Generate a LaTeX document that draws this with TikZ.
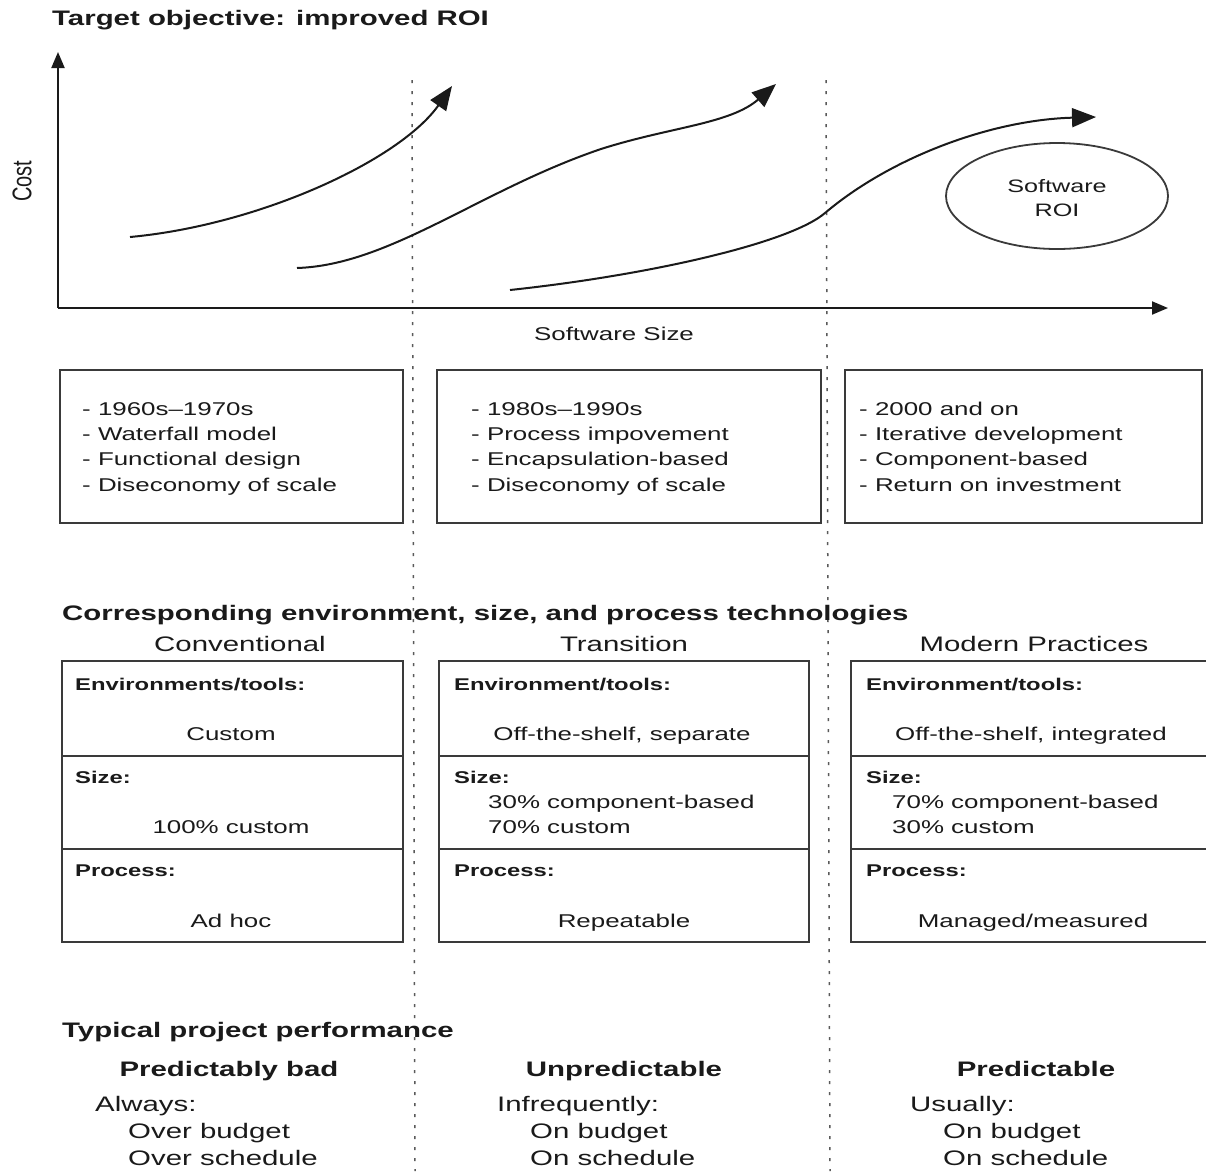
\documentclass[tikz,border=0pt]{standalone}
\usepackage{fontspec}
\setmainfont{Liberation Sans}[FakeStretch=1.4]
\newfontfamily\plainfont{Liberation Sans}
\usetikzlibrary{arrows.meta}

\definecolor{ink}{HTML}{1A1A1A}
\definecolor{frame}{HTML}{3A3A3A}
\definecolor{dots}{HTML}{5A5A5A}

\begin{document}
\begin{tikzpicture}[x=1pt,y=-1pt,
  every node/.style={inner sep=0pt, text=ink},
  heading/.style={font=\fontsize{21}{25}\selectfont\bfseries, anchor=base west},
  body/.style={font=\fontsize{18.5}{25}\selectfont, anchor=base west},
  bodyc/.style={font=\fontsize{18.5}{25}\selectfont, anchor=base},
  rowlabel/.style={font=\fontsize{17}{20}\selectfont\bfseries, anchor=base west},
  colhead/.style={font=\fontsize{21}{25}\selectfont, anchor=base},
  perf/.style={font=\fontsize{21}{27}\selectfont, anchor=base west},
  perfhead/.style={font=\fontsize{21}{27}\selectfont\bfseries, anchor=base},
  frameline/.style={draw=frame, line width=1.8pt},
  axis/.style={draw=ink, line width=2pt, -{Triangle[length=16pt,width=13pt]}},
  growth/.style={draw=ink, line width=2pt, -{Triangle[length=24pt,width=19pt]}},
  divider/.style={draw=dots, line width=1.5pt, dash pattern=on 3pt off 8pt},
]
\useasboundingbox (0,0) rectangle (1206,1171);
\fill[white] (0,0) rectangle (1206,1171);

% ---------- era dividers ----------
\coordinate (d1top) at (412,80);
\coordinate (d1bot) at (415,1171);
\coordinate (d2top) at (826,80);
\coordinate (d2bot) at (830,1171);
\draw[divider] (d1top) -- (d1bot);
\draw[divider] (d2top) -- (d2bot);

% ---------- cost / size chart ----------
\node[heading] (title) at (52,25) {Target objective: improved ROI};

\coordinate (origin) at (58,308);
\coordinate (ytip) at (58,52);
\coordinate (xtip) at (1168,308);
\draw[axis] (origin) -- (ytip);
\draw[axis] (origin) -- (xtip);

\node[rotate=90, font=\plainfont\fontsize{20}{24}\selectfont] (costlabel) at (22,181) {\scalebox{1}[1.35]{Cost}};
\node[bodyc] (sizelabel) at (614,340) {Software Size};

% conventional era
\coordinate (c1s) at (130,237);
\coordinate (c1e) at (452,86);
\draw[growth] (c1s) .. controls (260,225) and (400,160) .. (c1e);

% transition era
\coordinate (c2s) at (297,268);
\coordinate (c2m) at (601,149);
\coordinate (c2e) at (776,84);
\draw[growth] (c2s) .. controls (390,265) and (480,190) .. (c2m)
                    .. controls (670,127) and (730,124) .. (c2e);

% modern era
\coordinate (c3s) at (510,290);
\coordinate (c3m) at (825,213);
\coordinate (c3e) at (1096,117);
\draw[growth] (c3s) .. controls (650,275) and (790,243) .. (c3m)
                    .. controls (890,158) and (990,120) .. (c3e);

\draw[frameline] (1057,196) ellipse [x radius=111, y radius=53];
\node[bodyc, font=\fontsize{18}{24}\selectfont] (roi) at (1057,192) {Software};
\node[bodyc, font=\fontsize{18}{24}\selectfont] (roi2) at (1057,216) {ROI};

% ---------- era summary boxes ----------
\draw[frameline] (60,370) rectangle (403,523);
\draw[frameline] (437,370) rectangle (821,523);
\draw[frameline] (845,370) rectangle (1202,523);

\node[body] (e1a) at (82,415) {- 1960s--1970s};
\node[body] (e1b) at (82,440) {- Waterfall model};
\node[body] (e1c) at (82,465) {- Functional design};
\node[body] (e1d) at (82,491) {- Diseconomy of scale};

\node[body] (e2a) at (471,415) {- 1980s--1990s};
\node[body] (e2b) at (471,440) {- Process impovement};
\node[body] (e2c) at (471,465) {- Encapsulation-based};
\node[body] (e2d) at (471,491) {- Diseconomy of scale};

\node[body] (e3a) at (859,415) {- 2000 and on};
\node[body] (e3b) at (859,440) {- Iterative development};
\node[body] (e3c) at (859,465) {- Component-based};
\node[body] (e3d) at (859,491) {- Return on investment};

% ---------- technologies table ----------
\node[heading] (techhead) at (62,620) {Corresponding environment, size, and process technologies};
\node[colhead] (conv) at (240,651) {Conventional};
\node[colhead] (trans) at (624,651) {Transition};
\node[colhead] (modern) at (1034,651) {Modern Practices};

% conventional column
\draw[frameline] (62,661) rectangle (403,942);
\draw[frameline] (62,756) -- (403,756);
\draw[frameline] (62,849) -- (403,849);
\node[rowlabel] (ca) at (75,690) {Environments/tools:};
\node[bodyc] (cav) at (231,740) {Custom};
\node[rowlabel] (cb) at (75,783) {Size:};
\node[bodyc] (cbv) at (231,833) {100\% custom};
\node[rowlabel] (cc) at (75,876) {Process:};
\node[bodyc] (ccv) at (231,927) {Ad hoc};

% transition column
\draw[frameline] (439,661) rectangle (809,942);
\draw[frameline] (439,756) -- (809,756);
\draw[frameline] (439,849) -- (809,849);
\node[rowlabel] (ta) at (454,690) {Environment/tools:};
\node[bodyc] (tav) at (622,740) {Off-the-shelf, separate};
\node[rowlabel] (tb) at (454,783) {Size:};
\node[body] (tbv1) at (488,808) {30\% component-based};
\node[body] (tbv2) at (488,833) {70\% custom};
\node[rowlabel] (tc) at (454,876) {Process:};
\node[bodyc] (tcv) at (624,927) {Repeatable};

% modern column (runs off the right edge)
\draw[frameline] (1206,661) -- (851,661) -- (851,942) -- (1206,942);
\draw[frameline] (851,756) -- (1206,756);
\draw[frameline] (851,849) -- (1206,849);
\node[rowlabel] (ma) at (866,690) {Environment/tools:};
\node[bodyc] (mav) at (1031,740) {Off-the-shelf, integrated};
\node[rowlabel] (mb) at (866,783) {Size:};
\node[body] (mbv1) at (892,808) {70\% component-based};
\node[body] (mbv2) at (892,833) {30\% custom};
\node[rowlabel] (mc) at (866,876) {Process:};
\node[bodyc] (mcv) at (1033,927) {Managed/measured};

% ---------- project performance ----------
\node[heading] (perfhead) at (62,1037) {Typical project performance};

\node[perfhead] (p1) at (229,1076) {Predictably bad};
\node[perf] (p1a) at (95,1111) {Always:};
\node[perf] (p1b) at (128,1138) {Over budget};
\node[perf] (p1c) at (128,1165) {Over schedule};

\node[perfhead] (p2) at (624,1076) {Unpredictable};
\node[perf] (p2a) at (497,1111) {Infrequently:};
\node[perf] (p2b) at (530,1138) {On budget};
\node[perf] (p2c) at (530,1165) {On schedule};

\node[perfhead] (p3) at (1036,1076) {Predictable};
\node[perf] (p3a) at (910,1111) {Usually:};
\node[perf] (p3b) at (943,1138) {On budget};
\node[perf] (p3c) at (943,1165) {On schedule};
\end{tikzpicture}
\end{document}
